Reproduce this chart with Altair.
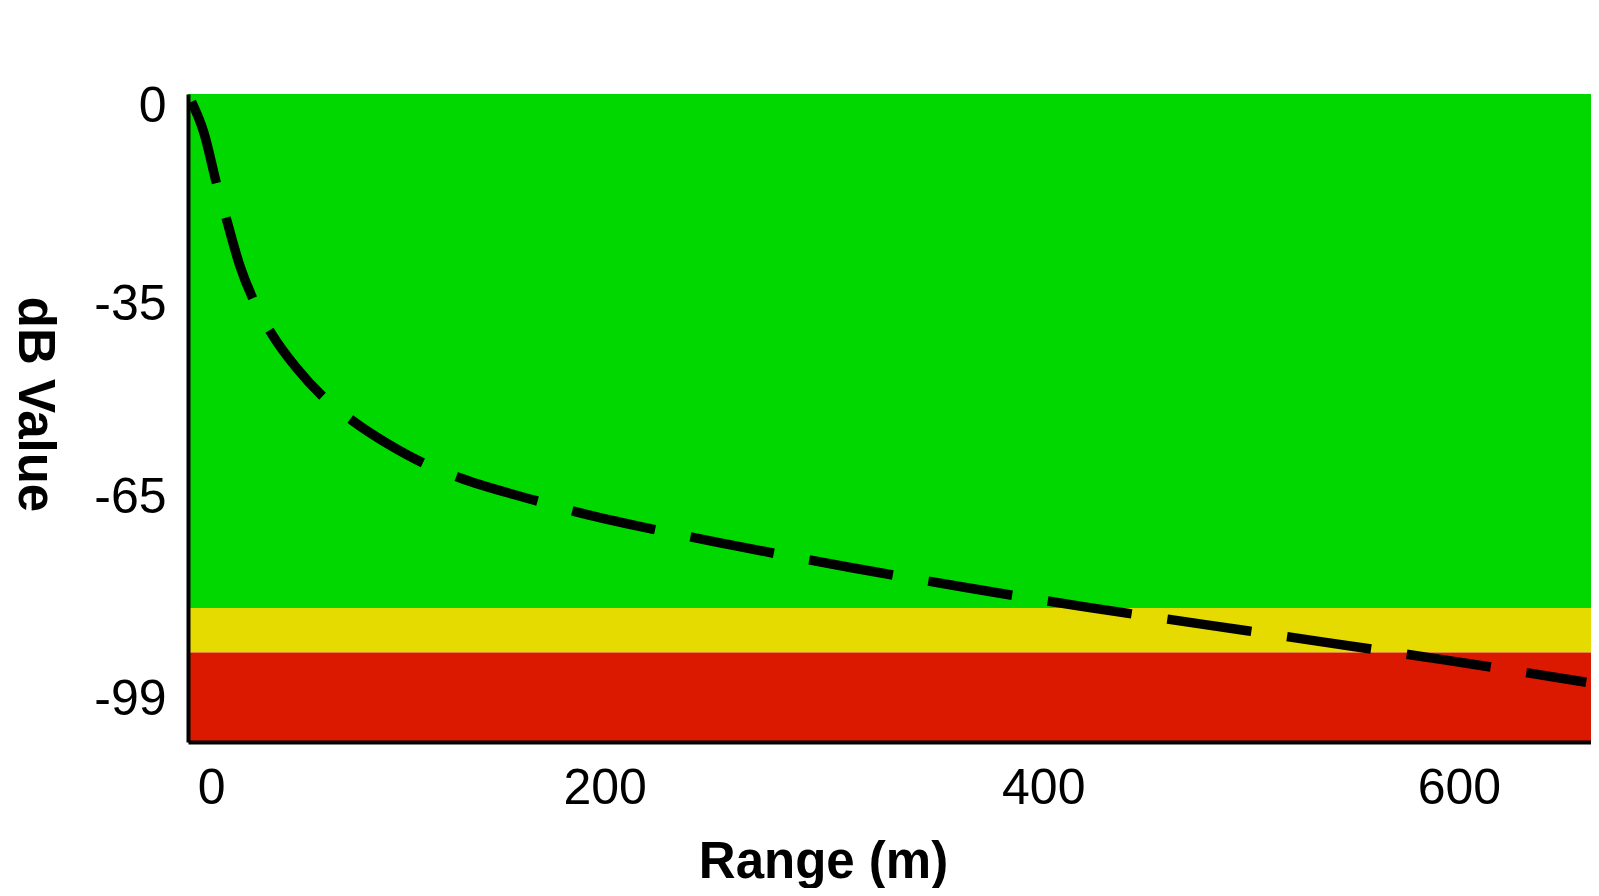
import altair as alt
import pandas as pd

# Curve
range_m = [-5.5, 0.4, 6.8, 11.2, 17.5, 24.8, 33.6, 44.4, 58.0, 71.2, 88.3, 105.4,
           122.5, 159.1, 177.7, 215.9, 253.3, 310.0, 366.7, 423.8, 480.7, 537.6,
           594.4, 662.4]
db_value = [-0.2, -5.3, -14.2, -19.6, -27.2, -33.5, -39.0, -44.1, -49.2, -52.9, -56.8, -60.0,
            -62.4, -66.2, -68.0, -71.0, -73.6, -77.3, -80.7, -83.9, -86.8, -89.7,
            -92.6, -96.3]

# Signal-quality bands
band_names = ["good", "fair", "poor"]
band_top = [1.1, -84.0, -91.4]
band_bottom = [-84.0, -91.4, -106.2]
band_colors = ["#00d800", "#e6db00", "#db1800"]

x_ticks = [0, 200, 400, 600]
y_ticks = [0, -35, -65, -99]

x_domain = [-7.2, 664.7]
y_domain = [-106.2, 1.1]

W, H = 1403, 648

curve = pd.DataFrame({"range": range_m, "db": db_value})
bands = pd.DataFrame({"band": band_names, "top": band_top, "bottom": band_bottom})

xscale = alt.Scale(domain=x_domain, nice=False, zero=False)
yscale = alt.Scale(domain=y_domain, nice=False, zero=False)

FONT = "Liberation Sans"

x_label_offset = {
    "condition": [
        {"test": "datum.value == 0", "value": 8},
        {"test": "datum.value == 200", "value": -16},
        {"test": "datum.value == 400", "value": 5},
    ],
    "value": 3,
}
y_label_offset = {
    "condition": [
        {"test": "datum.value == 0", "value": 6},
        {"test": "datum.value == -35", "value": -8},
        {"test": "datum.value == -65", "value": 4},
    ],
    "value": 1,
}

x_axis = alt.Axis(values=x_ticks, ticks=False, grid=False, domainColor="black",
                  domainWidth=4, labelFontSize=50, labelFont=FONT, labelColor="black",
                  labelPadding=21, labelOffset=x_label_offset,
                  labelExpr="datum.value + ''",
                  title="Range (m)", titleFont=FONT, titleFontSize=51,
                  titleFontWeight="bold", titleColor="black", titleX=635, titleY=135,
                  titleAlign="center", titleBaseline="alphabetic", zindex=1)
y_axis = alt.Axis(values=y_ticks, ticks=False, grid=False, domainColor="black",
                  domainWidth=4, labelFontSize=50, labelFont=FONT, labelColor="black",
                  labelPadding=22, labelOffset=y_label_offset,
                  labelExpr="datum.value + ''",
                  title="dB Value", titleFont=FONT, titleFontSize=51,
                  titleFontWeight="bold", titleColor="black", titleAngle=90,
                  titleX=-155, titleY=310, titleAlign="center", titleBaseline="middle",
                  zindex=1)

rects = alt.Chart(bands).mark_rect().encode(
    x=alt.value(0), x2=alt.value(W),
    y=alt.Y("top:Q", scale=yscale, axis=y_axis),
    y2="bottom:Q",
    color=alt.Color("band:N", scale=alt.Scale(domain=band_names, range=band_colors), legend=None),
)

line = alt.Chart(curve).mark_line(
    color="black", strokeWidth=9.5, strokeDash=[85, 36], strokeCap="butt", interpolate="monotone"
).encode(
    x=alt.X("range:Q", scale=xscale, axis=x_axis),
    y=alt.Y("db:Q", scale=yscale),
)

chart = alt.layer(rects, line).properties(
    width=W, height=H,
    autosize=alt.AutoSizeParams(type="none"),
    padding={"left": 180, "top": 86, "right": 0, "bottom": 146},
).configure_view(stroke=None).configure(background="white")

chart.save("out.html", embed_options={"renderer": "svg", "actions": False})
